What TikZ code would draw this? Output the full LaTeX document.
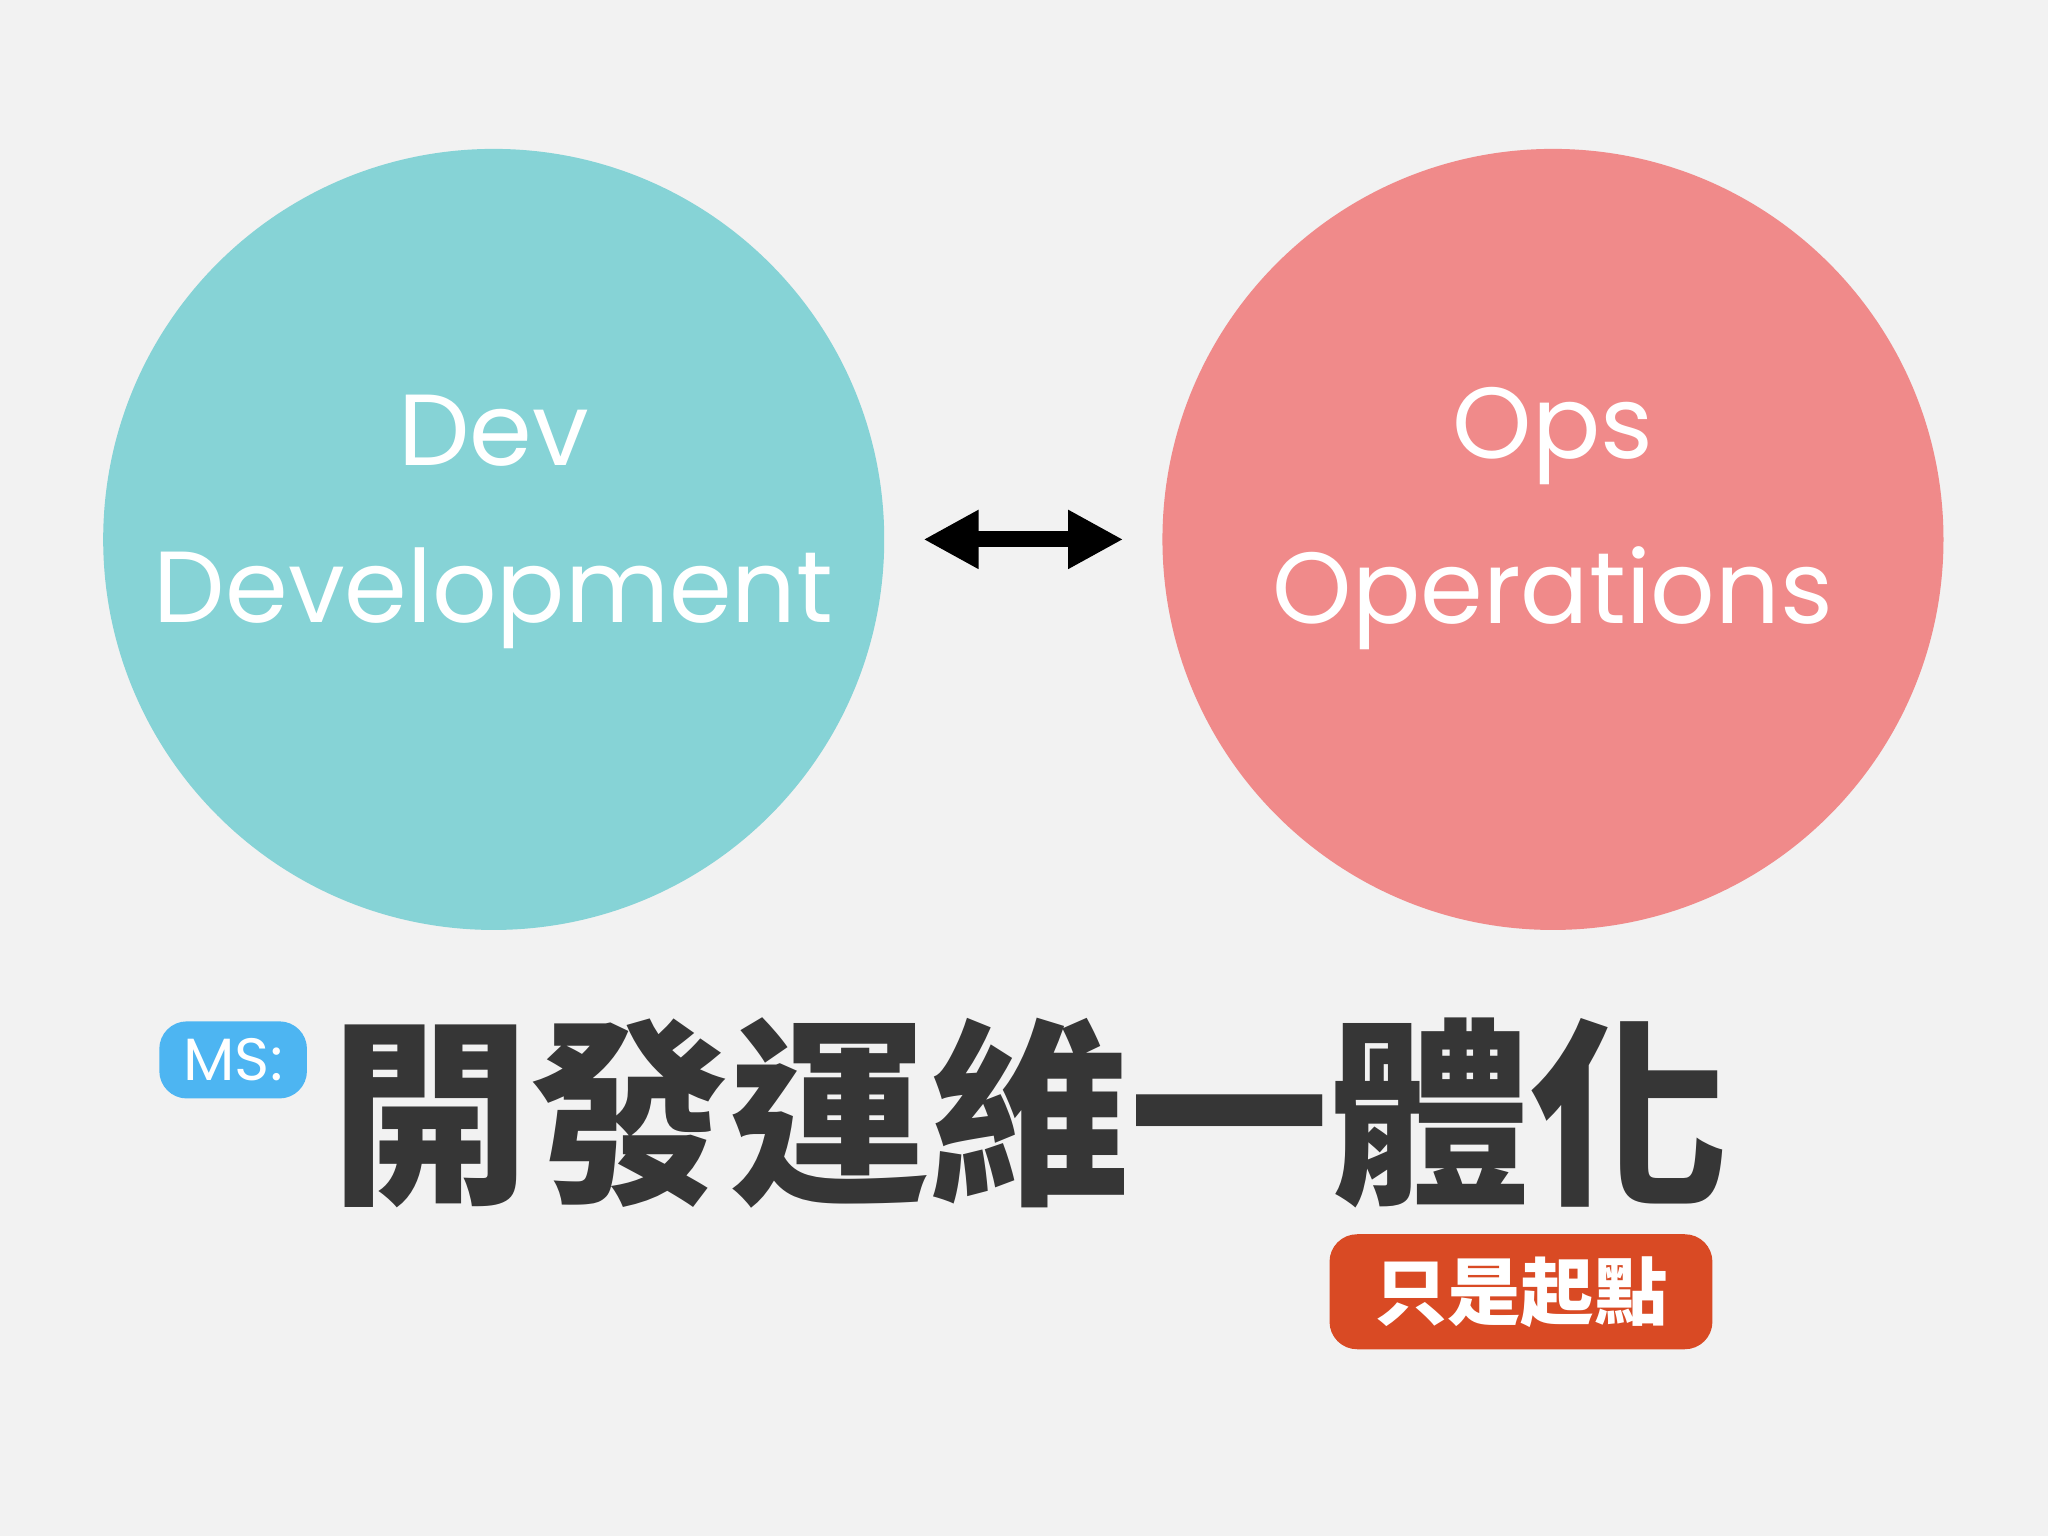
\documentclass[tikz,border=0pt]{standalone}
\usepackage{fontspec}
\setmainfont{Poppins}
\newfontfamily\cjk{Noto Sans CJK TC}
\usetikzlibrary{arrows.meta}
\definecolor{bg}{HTML}{F2F2F2}
\definecolor{devc}{HTML}{86D3D6}
\definecolor{opsc}{HTML}{F08A8A}
\definecolor{dark}{HTML}{363636}
\definecolor{msblue}{HTML}{4DB5F2}
\definecolor{redbox}{HTML}{D94A24}
\tikzset{
  lbl/.style={text=white,font=\fontsize{22}{26}\selectfont,align=center},
  tag/.style={rounded corners=6pt,text=white,inner sep=0pt}
}
\begin{document}
\begin{tikzpicture}[x=0.01cm,y=-0.01cm]
\fill[bg] (0,0) rectangle (1568,1176);
\useasboundingbox (0,0) rectangle (1568,1176);
\fill[devc] (378,413) circle (299);
\fill[opsc] (1189,413) circle (299);
\node[lbl] (dev) at (378,330) {Dev};
\node[lbl] (devl) at (378,458) {Development};
\node[lbl] (ops) at (1189,334) {Ops};
\node[lbl] (opsl) at (1189,458) {Operations};
\coordinate (al) at (707,413);
\coordinate (ar) at (860,413);
\draw[line width=3.5pt,{Triangle[length=12pt,width=12pt]}-{Triangle[length=12pt,width=12pt]}] (al) -- (ar);
\node[fill=msblue,tag,minimum width=1.13cm,minimum height=0.59cm,font=\fontsize{13}{15}\selectfont] (ms) at (178.5,811.5) {MS:};
\node[text=dark,font=\cjk\bfseries\fontsize{43.5}{50}\selectfont,anchor=west,inner sep=0pt] (title) at (252,852) {開發運維一體化};
\node[fill=redbox,tag,minimum width=2.93cm,minimum height=0.88cm,font=\cjk\bfseries\fontsize{16}{20}\selectfont] (rb) at (1164.5,989) {只是起點};
\end{tikzpicture}
\end{document}
